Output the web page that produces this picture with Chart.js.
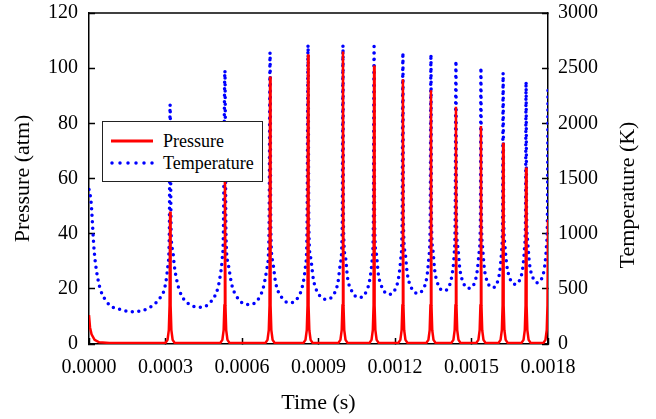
<!DOCTYPE html>
<html>
<head>
<meta charset="utf-8">
<script src="https://cdn.jsdelivr.net/npm/chart.js@4.4.1/dist/chart.umd.min.js"></script>
<style>
  body { margin: 0; background: #fff; }
  #wrap { position: relative; width: 656px; height: 419px; }
  #legend {
    position: absolute; left: 102px; top: 121px; width: 159px; height: 59px;
    border: 1px solid #222; background: #fff;
    font: 18px "Liberation Serif", "Times New Roman", serif; color: #000;
  }
  .item { position: absolute; left: 7px; height: 20px; display: flex; align-items: center; white-space: nowrap; }
  .item svg { margin-right: 9px; }
</style>
</head>
<body>
<div id="wrap">
  <canvas id="chart" width="656" height="419"></canvas>
  <div id="legend">
    <div class="item" style="top:9px">
      <svg width="44" height="6"><line x1="1" y1="3" x2="43" y2="3" stroke="rgb(255,0,0)" stroke-width="3"/></svg>Pressure
    </div>
    <div class="item" style="top:31px">
      <svg width="44" height="6"><line x1="2" y1="3" x2="43" y2="3" stroke="rgb(0,0,255)" stroke-width="3.5" stroke-dasharray="0 8" stroke-linecap="round"/></svg>Temperature
    </div>
  </div>
</div>
<script>
// time in microseconds
const xTickLabels = ['0.0000', '0.0003', '0.0006', '0.0009', '0.0012', '0.0015', '0.0018'];

const presTime = [0, 4, 10, 22, 40, 80,
  300, 308, 313, 316, 318, 320, 323, 328, 336,
  515, 523, 528, 531, 533, 535, 538, 543, 551,
  692, 700, 705, 708, 710, 712, 715, 720, 728,
  841, 849, 854, 857, 859, 861, 864, 869, 877,
  978, 986, 991, 994, 996, 998, 1001, 1006, 1014,
  1100, 1108, 1113, 1116, 1118, 1120, 1123, 1128, 1136,
  1213, 1221, 1226, 1229, 1231, 1233, 1236, 1241, 1249,
  1323, 1331, 1336, 1339, 1341, 1343, 1346, 1351, 1359,
  1421, 1429, 1434, 1437, 1439, 1441, 1444, 1449, 1457,
  1519, 1527, 1532, 1535, 1537, 1539, 1542, 1547, 1555,
  1606, 1614, 1619, 1622, 1624, 1626, 1629, 1634, 1642,
  1696, 1704, 1709, 1712, 1714, 1716, 1719, 1724, 1732,
  1782, 1790, 1795, 1798, 1800];
const presAtm = [10.5, 6, 3.5, 1.5, 0.6, 0.4,
  0.4, 1.5, 5, 14, 48, 14, 5, 1.5, 0.4,
  0.4, 1.5, 5, 14, 70, 14, 5, 1.5, 0.4,
  0.4, 1.5, 5, 14, 97, 14, 5, 1.5, 0.4,
  0.4, 1.5, 5, 14, 105, 14, 5, 1.5, 0.4,
  0.4, 1.5, 5, 14, 106, 14, 5, 1.5, 0.4,
  0.4, 1.5, 5, 14, 101, 14, 5, 1.5, 0.4,
  0.4, 1.5, 5, 14, 96, 14, 5, 1.5, 0.4,
  0.4, 1.5, 5, 14, 92, 14, 5, 1.5, 0.4,
  0.4, 1.5, 5, 14, 86, 14, 5, 1.5, 0.4,
  0.4, 1.5, 5, 14, 79, 14, 5, 1.5, 0.4,
  0.4, 1.5, 5, 14, 73, 14, 5, 1.5, 0.4,
  0.4, 1.5, 5, 14, 64, 14, 5, 1.5, 0.4,
  0.4, 1.5, 5, 14, 45];

const tempTime = [0, 8, 20, 37, 69, 122, 174, 226, 272, 298, 309, 315, 318,
  322, 328, 335, 344, 354, 374, 400, 420, 446, 472, 492, 505, 514, 522, 527, 533,
  537, 545, 560, 586, 622, 657, 683, 698, 706, 710,
  713, 720, 732, 755, 785, 814, 837, 849, 855, 859,
  862, 869, 880, 900, 928, 955, 976, 986, 993, 996,
  998, 1005, 1014, 1033, 1057, 1081, 1100, 1110, 1115, 1118,
  1120, 1126, 1135, 1152, 1175, 1197, 1214, 1223, 1228, 1231,
  1233, 1239, 1248, 1264, 1286, 1308, 1325, 1333, 1338, 1341,
  1343, 1348, 1356, 1370, 1390, 1410, 1424, 1432, 1436, 1439,
  1441, 1446, 1454, 1468, 1488, 1508, 1522, 1530, 1535, 1537,
  1539, 1543, 1550, 1563, 1581, 1598, 1611, 1618, 1622, 1624,
  1626, 1630, 1638, 1651, 1669, 1687, 1701, 1708, 1712, 1714,
  1716, 1720, 1727, 1740, 1757, 1774, 1787, 1794, 1798, 1800];
const tempK = [1400, 1290, 852, 565, 384, 314, 293, 317, 399, 520, 701, 1004, 2167,
  1004, 852, 701, 580, 490, 399, 354, 335, 333, 369, 429, 505, 610, 762, 1006, 2478,
  1007, 737, 537, 407, 357, 387, 507, 687, 1007, 2641,
  1024, 754, 554, 424, 374, 404, 524, 704, 1024, 2711,
  1055, 785, 585, 455, 405, 435, 555, 735, 1055, 2705,
  1070, 800, 600, 470, 420, 450, 570, 750, 1070, 2696,
  1100, 830, 630, 500, 450, 480, 600, 780, 1100, 2641,
  1110, 840, 640, 510, 460, 490, 610, 790, 1110, 2626,
  1133, 863, 663, 533, 483, 513, 633, 813, 1133, 2566,
  1155, 885, 685, 555, 505, 535, 655, 835, 1155, 2505,
  1161, 891, 691, 561, 511, 541, 661, 841, 1161, 2454,
  1191, 921, 721, 591, 541, 571, 691, 871, 1191, 2378,
  1206, 936, 736, 606, 556, 586, 706, 886, 1206, 2339];

const serif = '"Liberation Serif", "Times New Roman", serif';
Chart.defaults.font.family = serif;
Chart.defaults.color = '#000';

const pts = (xs, ys) => xs.map((x, i) => ({ x: x, y: ys[i] }));

// top edge of the frame
const frame = {
  id: 'frame',
  afterDatasetsDraw(chart) {
    const { ctx, chartArea: a } = chart;
    ctx.save();
    ctx.strokeStyle = '#000';
    ctx.lineWidth = 1.5;
    ctx.beginPath();
    ctx.moveTo(a.left, a.top);
    ctx.lineTo(a.right, a.top);
    ctx.stroke();
    ctx.restore();
  }
};

// right title reads bottom-to-top, like the left one
const rightTitle = {
  id: 'rightTitle',
  afterDraw(chart) {
    const ctx = chart.ctx;
    ctx.save();
    ctx.translate(628, 195);
    ctx.rotate(-Math.PI / 2);
    ctx.font = '22px ' + serif;
    ctx.fillStyle = '#000';
    ctx.textAlign = 'center';
    ctx.textBaseline = 'middle';
    ctx.fillText('Temperature (K)', 0, 0);
    ctx.restore();
  }
};

const inTicks = { drawOnChartArea: false, tickLength: -6, tickColor: '#000', tickWidth: 1.5 };
const axisBorder = { color: '#000', width: 1.5 };
const fitY = w => s => { s.width = w; s.paddingTop = 0; s.paddingBottom = 0; };

new Chart(document.getElementById('chart').getContext('2d'), {
  type: 'line',
  data: {
    datasets: [{
      label: 'Pressure',
      data: pts(presTime, presAtm),
      yAxisID: 'y',
      borderColor: 'rgb(255,0,0)',
      borderWidth: 2.5,
      pointRadius: 0,
      tension: 0,
      order: 1
    }, {
      label: 'Temperature',
      data: pts(tempTime, tempK),
      yAxisID: 'y2',
      borderColor: 'rgb(0,0,255)',
      borderWidth: 3.5,
      borderDash: [0, 6.5],
      borderCapStyle: 'round',
      pointRadius: 0,
      cubicInterpolationMode: 'monotone',
      order: 2
    }]
  },
  options: {
    responsive: false,
    animation: false,
    devicePixelRatio: 1,
    layout: { padding: { top: 13, left: 0, right: 0, bottom: 0 } },
    plugins: { legend: { display: false }, tooltip: { enabled: false } },
    scales: {
      x: {
        type: 'linear', min: 0, max: 1800,
        afterFit: s => { s.height = 75; s.paddingLeft = 0; s.paddingRight = 0; },
        ticks: { stepSize: 300, padding: 18, maxRotation: 0, font: { size: 20 },
          callback: (v, i) => xTickLabels[i] },
        grid: inTicks,
        border: axisBorder,
        title: { display: true, text: 'Time (s)', font: { size: 22 }, padding: { top: 0, bottom: 3 } }
      },
      y: {
        position: 'left', min: 0, max: 120,
        afterFit: fitY(89),
        ticks: { stepSize: 20, padding: 17, font: { size: 20 }, callback: v => String(v) },
        grid: inTicks,
        border: axisBorder,
        title: { display: true, text: 'Pressure (atm)', font: { size: 22 }, padding: { top: 10, bottom: 0 } }
      },
      y2: {
        position: 'right', min: 0, max: 3000,
        afterFit: fitY(108),
        ticks: { stepSize: 500, padding: 16, font: { size: 20 }, callback: v => String(v) },
        grid: inTicks,
        border: axisBorder
      }
    }
  },
  plugins: [frame, rightTitle]
});
</script>
</body>
</html>
